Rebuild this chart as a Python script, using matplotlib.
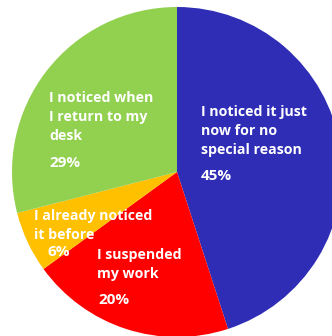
import matplotlib.pyplot as plt

labels = ["I noticed it just\nnow for no\nspecial reason",
          "I suspended\nmy work",
          "I already noticed\nit before",
          "I noticed when\nI return to my\ndesk"]
values = [45, 20, 6, 29]
colors = ["#2F2DB5", "#FF0000", "#FFC000", "#92D050"]

W, H = 332, 336

fig = plt.figure(figsize=(W / 100, H / 100), dpi=100)
ax = fig.add_axes([0, 0, 1, 1])

# pie centre / radius in pixels (y measured from the top)
cx, cy, r = 177, 172, 165
ax.pie(values, colors=colors, startangle=90, counterclock=False,
       center=(cx, H - cy), radius=r, frame=True,
       wedgeprops=dict(linewidth=0))
ax.set_xlim(0, W)
ax.set_ylim(0, H)
ax.set_aspect("equal")
ax.axis("off")

# label placement: (x, y of first line, x of pct, y of pct), pixels from top-left
spots = [(201, 112, 201, 176),
         (97, 255, 98, 300),
         (34, 216, 47, 252),
         (49, 98, 49, 163)]

font = dict(family="Open Sans", weight="bold", color="white")
for lab, val, (x, y, px, py) in zip(labels, values, spots):
    for i, line in enumerate(lab.split("\n")):
        ax.text(x, H - (y + i * 19), line, va="center", ha="left",
                fontsize=10.2, **font)
    ax.text(px, H - py, f"{val}%", va="center", ha="left",
            fontsize=11, **font)

fig.savefig("out.png", dpi=100)
